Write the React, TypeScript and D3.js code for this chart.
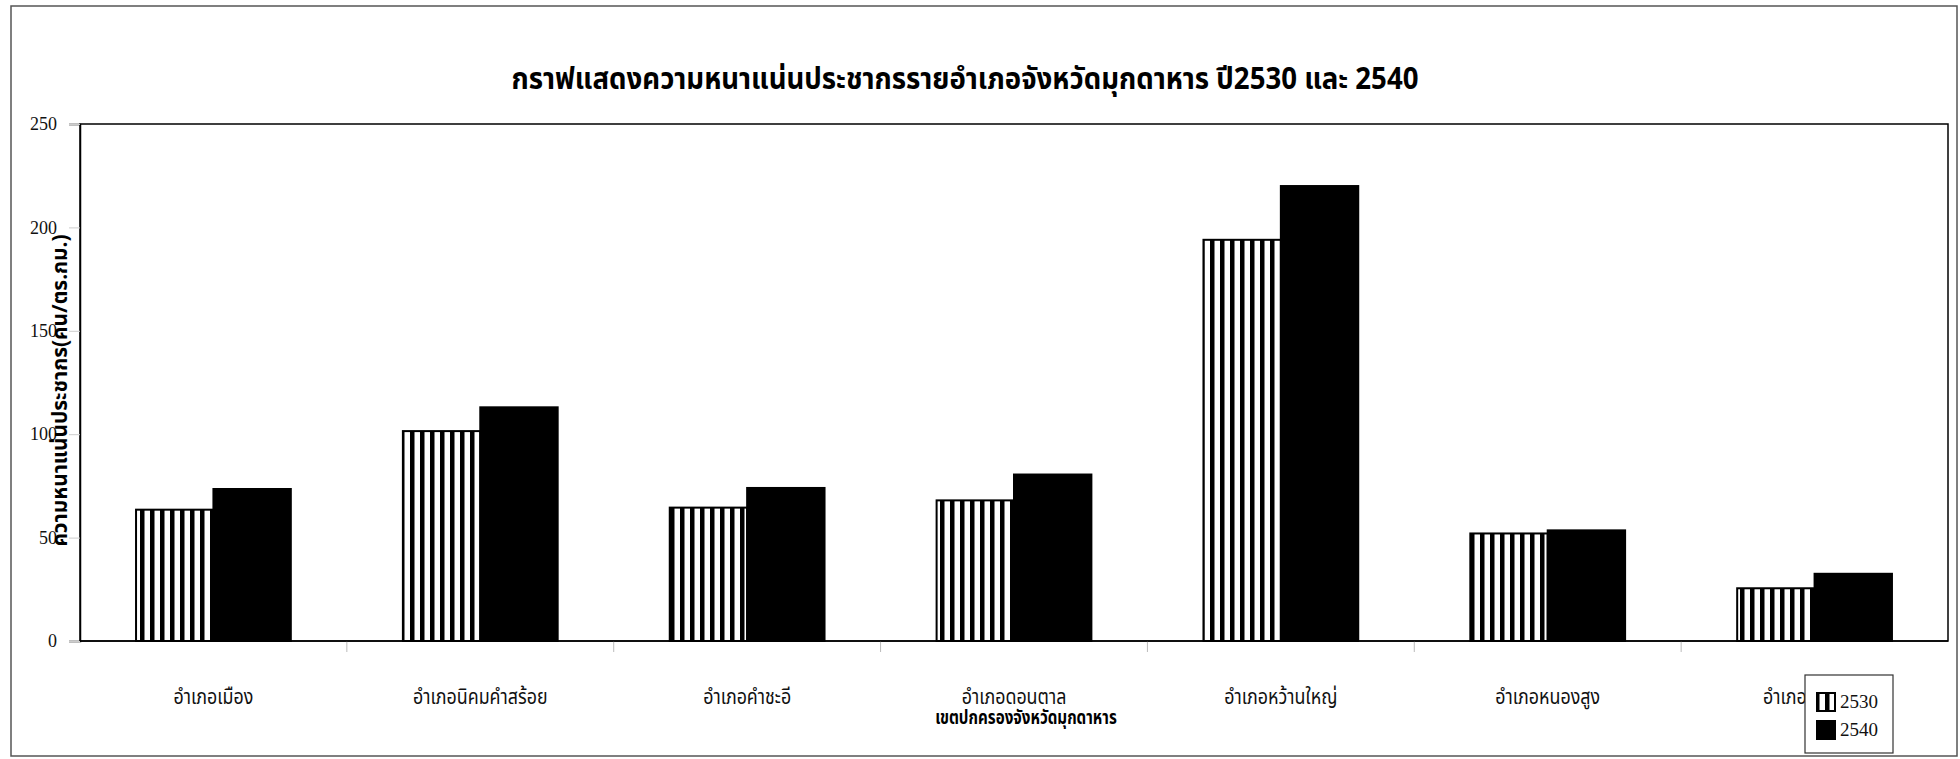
import React, { useEffect, useRef } from 'react';
import * as d3 from 'd3';

const districts = [
  'อำเภอเมือง',
  'อำเภอนิคมคำสร้อย',
  'อำเภอคำชะอี',
  'อำเภอดอนตาล',
  'อำเภอหว้านใหญ่',
  'อำเภอหนองสูง',
  'อำเภอดงหลวง',
];
const years = ['2530', '2540'];
const density2530 = [63.5, 101.5, 64.5, 68, 194, 52, 25.5];
const density2540 = [73.5, 113, 74, 80.5, 220, 53.5, 32.5];
const yTicks = [0, 50, 100, 150, 200, 250];

const chartTitle = 'กราฟแสดงความหนาแน่นประชากรรายอำเภอจังหวัดมุกดาหาร ปี2530 และ 2540';
const xTitle = 'เขตปกครองจังหวัดมุกดาหาร';
const yTitle = 'ความหนาแน่นประชากร(คน/ตร.กม.)';

const thaiFont = '"Noto Sans Thai", "Noto Serif Thai", Loma, Garuda, "Tlwg Typo", "DejaVu Sans", sans-serif';
const serifFont = '"Liberation Serif", "Times New Roman", serif';

const W = 1960, H = 759;

const App = () => {
  const ref = useRef<SVGSVGElement>(null);

  useEffect(() => {
    const svg = d3.select(ref.current);
    svg.selectAll('*').remove();

    const left = 80, right = 1948, top = 124, bottom = 641;

    // outer border of the chart area
    svg.append('rect')
      .attr('x', 11).attr('y', 6).attr('width', 1946).attr('height', 750)
      .attr('fill', '#fff').attr('stroke', '#555').attr('stroke-width', 1.5);

    const defs = svg.append('defs');
    const pat = defs.append('pattern')
      .attr('id', 'stripes').attr('patternUnits', 'userSpaceOnUse')
      .attr('width', 10).attr('height', 10);
    pat.append('rect').attr('width', 10).attr('height', 10).attr('fill', '#fff');
    pat.append('rect').attr('width', 4.5).attr('height', 10).attr('fill', '#000');

    const x = d3.scaleBand<string>().domain(districts).range([left, right]);
    const bw = x.bandwidth();
    const groupW = bw * 0.58;
    const x1 = d3.scaleBand<string>().domain(years).range([(bw - groupW) / 2, (bw + groupW) / 2]);
    const y = d3.scaleLinear().domain([0, 250]).range([bottom, top]);

    // plot frame
    svg.append('rect')
      .attr('x', left).attr('y', top).attr('width', right - left).attr('height', bottom - top)
      .attr('fill', 'none').attr('stroke', '#000').attr('stroke-width', 1.5);

    // y axis
    const yAxis = svg.append('g')
      .attr('transform', `translate(${left},0)`)
      .call(d3.axisLeft(y).tickValues(yTicks).tickSize(11).tickPadding(12));
    yAxis.select('.domain').attr('stroke', '#000').attr('stroke-width', 1.5);
    yAxis.selectAll('.tick line').attr('stroke', '#ccc');
    yAxis.selectAll('.tick text')
      .attr('font-family', serifFont).attr('font-size', 18).attr('fill', '#111');

    // category boundary ticks
    svg.append('g').selectAll('line')
      .data(districts.slice(1))
      .enter().append('line')
      .attr('x1', (d) => x(d)!).attr('x2', (d) => x(d)!)
      .attr('y1', bottom).attr('y2', bottom + 11)
      .attr('stroke', '#bbb');

    const series = [
      { year: years[0], values: density2530, fill: 'url(#stripes)' },
      { year: years[1], values: density2540, fill: '#000' },
    ];

    series.forEach((s) => {
      svg.append('g').selectAll('rect')
        .data(s.values)
        .enter().append('rect')
        .attr('x', (_, i) => x(districts[i])! + x1(s.year)!)
        .attr('y', (d) => y(d))
        .attr('width', x1.bandwidth())
        .attr('height', (d) => bottom - y(d))
        .attr('fill', s.fill)
        .attr('stroke', '#000').attr('stroke-width', 2);
    });

    // baseline
    svg.append('line')
      .attr('x1', left).attr('x2', right).attr('y1', bottom).attr('y2', bottom)
      .attr('stroke', '#000').attr('stroke-width', 1.5);

    // category labels
    svg.append('g').selectAll('text')
      .data(districts)
      .enter().append('text')
      .attr('transform', (d) => `translate(${x(d)! + bw / 2},704) scale(0.85,1)`)
      .attr('text-anchor', 'middle')
      .attr('font-family', thaiFont).attr('font-size', 21).attr('fill', '#111')
      .text((d) => d);

    // axis titles
    svg.append('text')
      .attr('transform', `translate(1026,724) scale(0.8,1)`)
      .attr('text-anchor', 'middle')
      .attr('font-family', thaiFont).attr('font-size', 19).attr('font-weight', 'bold')
      .attr('fill', '#000')
      .text(xTitle);

    svg.append('text')
      .attr('transform', `translate(67,${(top + bottom) / 2 + 8}) rotate(-90) scale(0.95,1)`)
      .attr('text-anchor', 'middle')
      .attr('font-family', thaiFont).attr('font-size', 22).attr('font-weight', 'bold')
      .attr('fill', '#000')
      .text(yTitle);

    svg.append('text')
      .attr('transform', `translate(965,89) scale(0.92,1)`)
      .attr('text-anchor', 'middle')
      .attr('font-family', thaiFont).attr('font-size', 30).attr('font-weight', 'bold')
      .attr('fill', '#000')
      .text(chartTitle);

    // legend
    const lg = svg.append('g').attr('transform', 'translate(1805,675)');
    lg.append('rect')
      .attr('width', 88).attr('height', 78)
      .attr('fill', '#fff').attr('stroke', '#333').attr('stroke-width', 1.2);
    series.forEach((s, i) => {
      lg.append('rect')
        .attr('x', 12).attr('y', 18 + i * 28).attr('width', 18).attr('height', 18)
        .attr('fill', s.fill).attr('stroke', '#000').attr('stroke-width', 2);
      lg.append('text')
        .attr('x', 35).attr('y', 33 + i * 28)
        .attr('font-family', serifFont).attr('font-size', 19).attr('fill', '#111')
        .text(s.year);
    });
  }, []);

  return (
    <div style={{ position: 'absolute', left: 0, top: 0 }}>
      <svg ref={ref} width={W} height={H} style={{ display: 'block', background: '#fff' }} />
    </div>
  );
};

export default App;
